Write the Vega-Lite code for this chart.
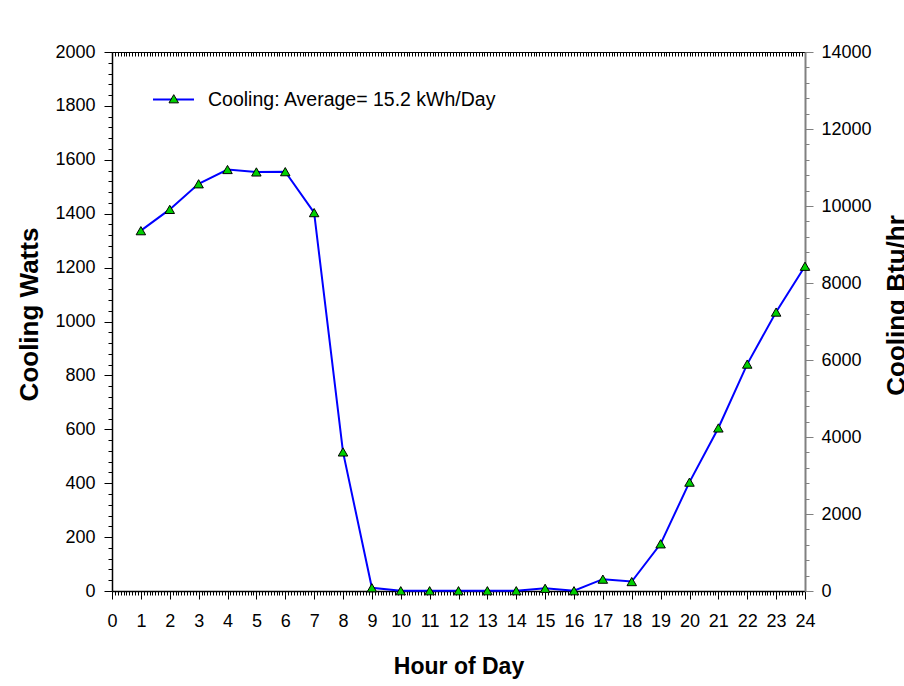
{
  "$schema": "https://vega.github.io/schema/vega-lite/v6.json",
  "width": 693,
  "height": 539,
  "autosize": {"type": "none"},
  "padding": {"left": 112, "top": 52, "right": 99, "bottom": 95},
  "background": "white",
  "config": {
    "view": {"stroke": null},
    "font": "Liberation Sans",
    "axis": {
      "grid": false,
      "domainColor": "black",
      "domainWidth": 1.5,
      "tickColor": "black",
      "tickWidth": 1,
      "labelColor": "black",
      "labelFont": "Liberation Sans",
      "labelFontSize": 18,
      "labelOverlap": false,
      "labelBound": false,
      "labelFlush": false,
      "titleFont": "Liberation Sans",
      "titleFontSize": 26,
      "titleFontWeight": "bold",
      "titleColor": "black"
    }
  },
  "datasets": {
    "cooling": [
      {"hour": 1, "watts": 1337, "series": "Cooling: Average= 15.2 kWh/Day"},
      {"hour": 2, "watts": 1416, "series": "Cooling: Average= 15.2 kWh/Day"},
      {"hour": 3, "watts": 1511, "series": "Cooling: Average= 15.2 kWh/Day"},
      {"hour": 4, "watts": 1564, "series": "Cooling: Average= 15.2 kWh/Day"},
      {"hour": 5, "watts": 1555, "series": "Cooling: Average= 15.2 kWh/Day"},
      {"hour": 6, "watts": 1556, "series": "Cooling: Average= 15.2 kWh/Day"},
      {"hour": 7, "watts": 1404, "series": "Cooling: Average= 15.2 kWh/Day"},
      {"hour": 8, "watts": 516, "series": "Cooling: Average= 15.2 kWh/Day"},
      {"hour": 9, "watts": 12, "series": "Cooling: Average= 15.2 kWh/Day"},
      {"hour": 10, "watts": 1, "series": "Cooling: Average= 15.2 kWh/Day"},
      {"hour": 11, "watts": 1, "series": "Cooling: Average= 15.2 kWh/Day"},
      {"hour": 12, "watts": 1, "series": "Cooling: Average= 15.2 kWh/Day"},
      {"hour": 13, "watts": 1, "series": "Cooling: Average= 15.2 kWh/Day"},
      {"hour": 14, "watts": 1, "series": "Cooling: Average= 15.2 kWh/Day"},
      {"hour": 15, "watts": 10, "series": "Cooling: Average= 15.2 kWh/Day"},
      {"hour": 16, "watts": 1, "series": "Cooling: Average= 15.2 kWh/Day"},
      {"hour": 17, "watts": 44, "series": "Cooling: Average= 15.2 kWh/Day"},
      {"hour": 18, "watts": 35, "series": "Cooling: Average= 15.2 kWh/Day"},
      {"hour": 19, "watts": 175, "series": "Cooling: Average= 15.2 kWh/Day"},
      {"hour": 20, "watts": 404, "series": "Cooling: Average= 15.2 kWh/Day"},
      {"hour": 21, "watts": 605, "series": "Cooling: Average= 15.2 kWh/Day"},
      {"hour": 22, "watts": 842, "series": "Cooling: Average= 15.2 kWh/Day"},
      {"hour": 23, "watts": 1035, "series": "Cooling: Average= 15.2 kWh/Day"},
      {"hour": 24, "watts": 1205, "series": "Cooling: Average= 15.2 kWh/Day"}
    ],
    "rightaxis": [
      {"hour": 0, "btu": 0},
      {"hour": 24, "btu": 14000}
    ]
  },
  "layer": [
    {
      "data": {"name": "cooling"},
      "encoding": {
        "x": {
          "field": "hour", "type": "quantitative",
          "scale": {"domain": [0, 24], "nice": false, "zero": false},
          "axis": {
            "orient": "bottom",
            "title": "Hour of Day",
            "titleFontSize": 23,
            "tickCount": 240,
            "labelExpr": "abs(datum.value - round(datum.value)) < 0.001 ? format(datum.value, 'd') : ''",
            "tickSize": {"condition": {"test": "abs(datum.value - round(datum.value)) < 0.001", "value": 8}, "value": 4},
            "labelPadding": 13,
            "titlePadding": 25
          }
        },
        "y": {
          "field": "watts", "type": "quantitative",
          "scale": {"domain": [0, 2000], "nice": false},
          "axis": {
            "orient": "left",
            "title": "Cooling Watts",
            "titleY": 262,
            "values": [0,40,80,120,160,200,240,280,320,360,400,440,480,520,560,600,640,680,720,760,800,840,880,920,960,1000,1040,1080,1120,1160,1200,1240,1280,1320,1360,1400,1440,1480,1520,1560,1600,1640,1680,1720,1760,1800,1840,1880,1920,1960,2000],
            "labelExpr": "datum.value % 200 === 0 ? format(datum.value, 'd') : ''",
            "tickSize": {"condition": {"test": "datum.value % 200 === 0", "value": 8}, "value": 4},
            "labelPadding": 9,
            "titlePadding": 12
          }
        }
      },
      "layer": [
        {
          "mark": {"type": "line", "strokeWidth": 2},
          "encoding": {
            "stroke": {
              "field": "series", "type": "nominal",
              "scale": {"range": ["#0000ff"]},
              "legend": {
                "title": null,
                "orient": "none",
                "legendX": 40,
                "legendY": 26,
                "padding": 0,
                "symbolType": "stroke",
                "symbolSize": 1681,
                "symbolStrokeWidth": 2,
                "labelFont": "Liberation Sans",
                "labelFontSize": 19.5,
                "labelColor": "black",
                "labelOffset": 13,
                "labelLimit": 500
              }
            }
          }
        },
        {
          "mark": {"type": "point", "filled": true, "stroke": "black", "strokeWidth": 1, "size": 90, "opacity": 1},
          "encoding": {
            "fill": {
              "field": "series", "type": "nominal",
              "scale": {"range": ["#00d000"]},
              "legend": {
                "title": null,
                "orient": "none",
                "legendX": 52,
                "legendY": 37,
                "padding": 0,
                "symbolType": "triangle-up",
                "symbolSize": 90,
                "symbolFillColor": "#00d000",
                "symbolStrokeColor": "black",
                "symbolStrokeWidth": 1,
                "symbolOpacity": 1,
                "labelExpr": "''",
                "labelFontSize": 19.5
              }
            },
            "shape": {
              "field": "series", "type": "nominal",
              "scale": {"range": ["triangle-up"]}
            }
          }
        }
      ]
    },
    {
      "data": {"name": "rightaxis"},
      "mark": {"type": "point", "opacity": 0},
      "encoding": {
        "x": {
          "field": "hour", "type": "quantitative",
          "axis": {
            "orient": "top",
            "title": null,
            "labels": false,
            "tickCount": 240,
            "tickSize": -4,
            "domainWidth": 1
          }
        },
        "y": {
          "field": "btu", "type": "quantitative",
          "scale": {"domain": [0, 14000], "nice": false},
          "axis": {
            "orient": "right",
            "title": "Cooling Btu/hr",
            "titleAngle": 270,
            "titleY": 253,
            "values": [0,400,800,1200,1600,2000,2400,2800,3200,3600,4000,4400,4800,5200,5600,6000,6400,6800,7200,7600,8000,8400,8800,9200,9600,10000,10400,10800,11200,11600,12000,12400,12800,13200,13600,14000],
            "labelExpr": "datum.value % 2000 === 0 ? format(datum.value, 'd') : ''",
            "tickSize": {"condition": {"test": "datum.value % 2000 === 0", "value": 8}, "value": 4},
            "domainColor": "#808080",
            "tickColor": "#808080",
            "domainWidth": 2,
            "labelPadding": 8,
            "titlePadding": 38
          }
        }
      }
    }
  ],
  "resolve": {"scale": {"y": "independent"}, "axis": {"x": "independent"}}
}
